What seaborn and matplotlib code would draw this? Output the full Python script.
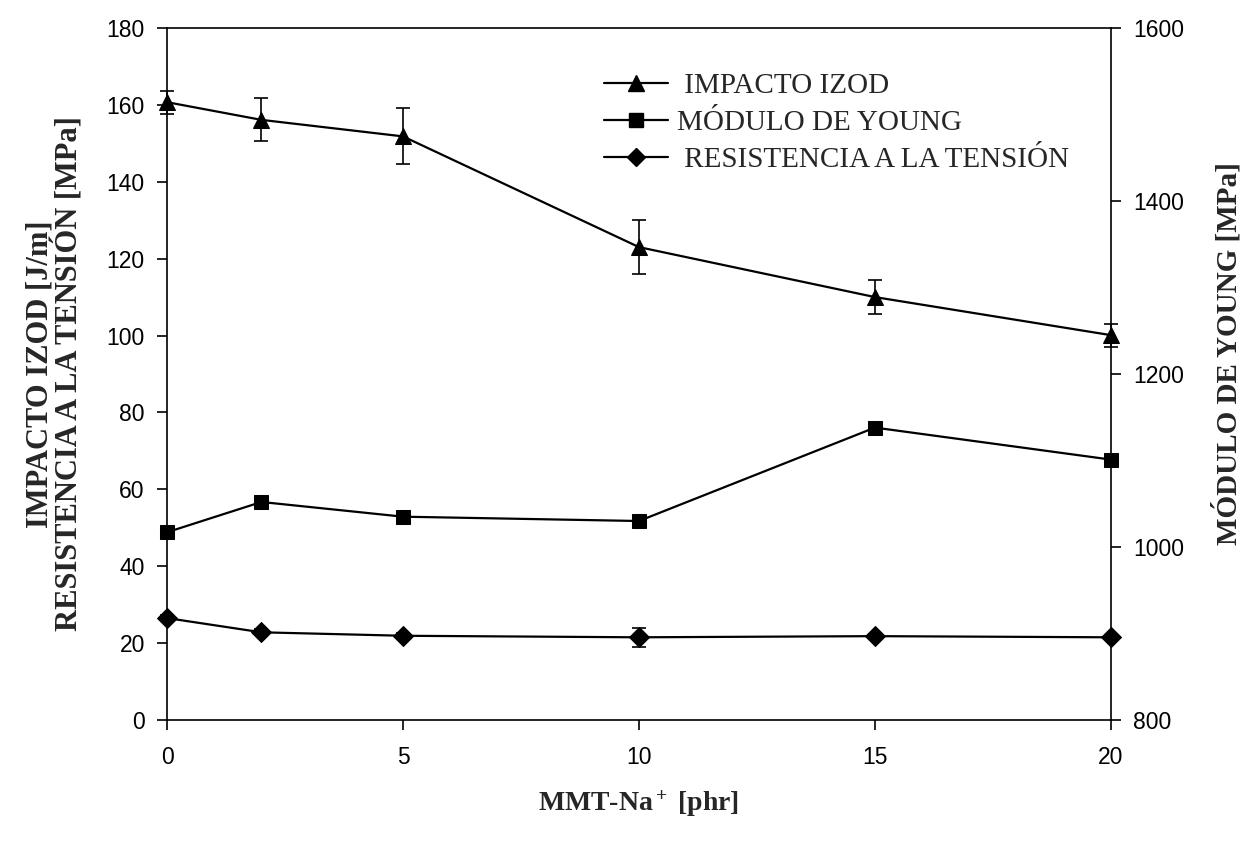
import numpy as np
import pandas as pd
import matplotlib
matplotlib.use('Agg')
import matplotlib.pyplot as plt
import seaborn as sns
from matplotlib.lines import Line2D

# data
mmt = [0, 2, 5, 10, 15, 20]
izod = [160.7, 156.1, 151.8, 123.0, 110.0, 100.1]
izod_err = [3.0, 5.6, 7.3, 7.0, 4.5, 3.0]
young = [1017, 1052, 1035, 1030, 1138, 1101]
tension = [26.5, 22.8, 21.9, 21.5, 21.8, 21.5]
tension_err = [0.8, 0.8, 0.6, 2.4, 0.5, 0.5]

df = pd.DataFrame({'mmt': mmt, 'izod': izod, 'young': young, 'tension': tension})

sns.set_style('ticks')
plt.rcParams['font.family'] = ['Liberation Sans', 'DejaVu Sans']
plt.rcParams['mathtext.fontset'] = 'custom'
plt.rcParams['mathtext.rm'] = 'Liberation Serif:bold'
plt.rcParams['mathtext.it'] = 'Liberation Serif:bold'
plt.rcParams['mathtext.bf'] = 'Liberation Serif:bold'

fig = plt.figure(figsize=(12.51, 8.48), dpi=100)
ax = fig.add_axes([0.1335, 0.151, 0.7545, 0.816])
ax2 = ax.twinx()

# error bars first, then lines with markers
ax.errorbar(mmt, izod, yerr=izod_err, fmt='none', ecolor='black', elinewidth=1.2,
            capsize=5, capthick=1.2, zorder=2, clip_on=False)
ax.errorbar(mmt, tension, yerr=tension_err, fmt='none', ecolor='black', elinewidth=1.2,
            capsize=5, capthick=1.2, zorder=2, clip_on=False)

sns.lineplot(data=df, x='mmt', y='izod', ax=ax, color='black', marker='^', markersize=12,
             markeredgecolor='black', linewidth=1.6, clip_on=False, zorder=3)
sns.lineplot(data=df, x='mmt', y='tension', ax=ax, color='black', marker='D', markersize=10,
             markeredgecolor='black', linewidth=1.6, clip_on=False, zorder=3)
sns.lineplot(data=df, x='mmt', y='young', ax=ax2, color='black', marker='s', markersize=10.5,
             markeredgecolor='black', linewidth=1.6, clip_on=False, zorder=3)

ax.set_xlim(0, 20)
ax.set_ylim(0, 180)
ax2.set_ylim(800, 1600)
ax.set_xticks([0, 5, 10, 15, 20])
ax.set_yticks(np.arange(0, 181, 20))
ax2.set_yticks(np.arange(800, 1601, 200))

for a in (ax, ax2):
    a.tick_params(direction='out', length=7, width=1.2, labelsize=16.5, colors='black', pad=9)
    for s in a.spines.values():
        s.set_linewidth(1.2)
        s.set_color('black')
ax.spines['right'].set_visible(False)
ax2.spines['left'].set_visible(False)
ax2.spines['bottom'].set_visible(False)
ax2.spines['top'].set_visible(False)
ax.tick_params(axis='x', pad=12)

serif = ['Liberation Serif', 'DejaVu Serif']
ax.set_xlabel(r'MMT-Na$^+$ [phr]', fontsize=20, fontweight='bold', family=serif, labelpad=14)
ax.set_ylabel('IMPACTO IZOD [J/m]\nRESISTENCIA A LA TENSIÓN [MPa]', fontsize=22,
              fontweight='bold', family=serif, labelpad=16, linespacing=0.92)
ax2.set_ylabel('MÓDULO DE YOUNG [MPa]', fontsize=21, fontweight='bold', family=serif)
ax2.yaxis.set_label_coords(1.108, 0.53)

handles = [
    Line2D([], [], color='black', marker='^', markersize=11, linewidth=1.6),
    Line2D([], [], color='black', marker='s', markersize=10, linewidth=1.6),
    Line2D([], [], color='black', marker='D', markersize=9, linewidth=1.6),
]
labels = [' IMPACTO IZOD', 'MÓDULO DE YOUNG', ' RESISTENCIA A LA TENSIÓN']
ax2.legend(handles, labels, loc='upper left', bbox_to_anchor=(0.463, 0.935), frameon=False,
           prop={'family': serif, 'size': 21}, handlelength=2.2, handletextpad=0.3,
           labelspacing=0.36, borderaxespad=0, borderpad=0)

fig.savefig('out.png', dpi=100)
